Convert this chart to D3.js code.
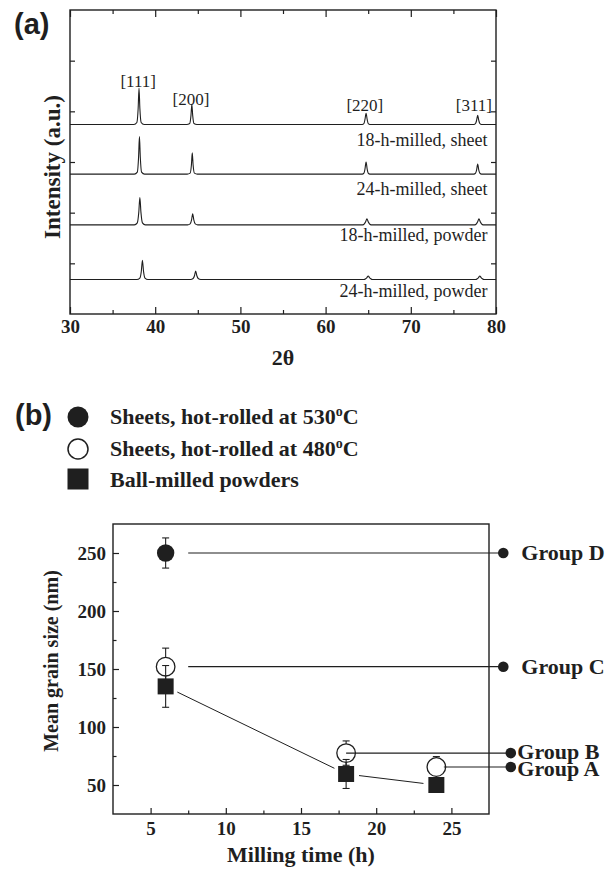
<!DOCTYPE html>
<html><head><meta charset="utf-8">
<script src="https://cdn.jsdelivr.net/npm/d3@7"></script>
<style>body{margin:0;background:#fff} svg{display:block}</style>
</head><body>
<svg id="c" width="612" height="870"></svg>
<script>
// ---------- Panel (a): XRD patterns ----------
const xTicksA = [30, 40, 50, 60, 70, 80];
const xMinorA = [35, 45, 55, 65, 75];
const yTicksA = [50, 100, 150, 200, 250];
const traceLabels = ["18-h-milled, sheet", "24-h-milled, sheet", "18-h-milled, powder", "24-h-milled, powder"];
const traceOffsets = [187, 138, 88, 34];
const trace18Sheet = [[30,0],
  [37.5,0],[37.85,2],[38.0,16],[38.1,36],[38.2,16],[38.35,2],[38.7,0],
  [43.7,0],[44.05,1],[44.2,9],[44.3,20],[44.4,9],[44.55,1],[44.9,0],
  [64.3,0],[64.5,1],[64.62,5],[64.75,11],[64.88,5],[65.0,1],[65.2,0],
  [77.4,0],[77.6,1],[77.72,4],[77.85,9],[77.98,4],[78.1,1],[78.3,0],
  [80,0]];
const trace24Sheet = [[30,0],
  [37.55,0],[37.9,2],[38.05,17],[38.15,37],[38.25,17],[38.4,2],[38.75,0],
  [43.75,0],[44.1,1],[44.25,9],[44.35,21],[44.45,9],[44.6,1],[44.95,0],
  [64.3,0],[64.5,1],[64.62,5],[64.75,12],[64.88,5],[65.0,1],[65.2,0],
  [77.4,0],[77.6,1],[77.72,4],[77.85,10],[77.98,4],[78.1,1],[78.3,0],
  [80,0]];
const trace18Powder = [[30,0],
  [37.55,0],[37.9,2],[38.07,12],[38.2,27],[38.33,12],[38.5,2],[38.85,0],
  [43.8,0],[44.1,1],[44.27,5],[44.4,11],[44.53,5],[44.7,1],[45.0,0],
  [64.35,0],[64.55,1],[64.7,3],[64.85,6],[65.0,3],[65.15,1],[65.35,0],
  [77.5,0],[77.7,1],[77.85,3],[78.0,6],[78.15,3],[78.3,1],[78.5,0],
  [80,0]];
const trace24Powder = [[30,0],
  [37.85,0],[38.2,1.5],[38.37,8],[38.5,19],[38.63,8],[38.8,1.5],[39.15,0],
  [44.15,0],[44.45,1],[44.62,4],[44.75,8.5],[44.88,4],[45.05,1],[45.35,0],
  [64.5,0],[64.7,0.8],[64.85,2],[65.0,3.5],[65.15,2],[65.3,0.8],[65.5,0],
  [77.6,0],[77.8,0.8],[77.95,2],[78.1,3.5],[78.25,2],[78.4,0.8],[78.6,0],
  [80,0]];
const traces = [trace18Sheet, trace24Sheet, trace18Powder, trace24Powder];
const peakLabels = ["[111]", "[200]", "[220]", "[311]"];
const peakLabelAngle = [38.0, 44.2, 64.6, 77.4];
const peakLabelLevel = [224, 206, 200, 200];

// ---------- Panel (b): grain size ----------
const xTicksB = [5, 10, 15, 20, 25];
const xMinorB = [7.5, 12.5, 17.5, 22.5];
const yTicksB = [50, 100, 150, 200, 250];
const yMinorB = [75, 125, 175, 225];
const legendLabels = ["Sheets, hot-rolled at 530", "Sheets, hot-rolled at 480", "Ball-milled powders"];
// [milling time (h), mean grain size (nm), error (nm)]
const hot530 = [[6, 250, 13]];
const hot480 = [[6, 152, 16], [18, 77.5, 10.5], [24, 65.5, 9]];
const powders = [[6, 135, 18], [18, 59.5, 12.5], [24, 50, 0]];
const groupNames = ["Group D", "Group C", "Group B", "Group A"];
const groupSize = [250, 152, 77.5, 65.5];
const groupFrom = [7.5, 7.5, 18, 24.5];
const groupTo = [28.45, 28.45, 28.95, 28.95];

// ---------- drawing ----------
const svg = d3.select("#c");
const ink = "#1f1f1f";
const serif = "'Liberation Serif', 'Times New Roman', serif";
const sans = "'Liberation Sans', Arial, sans-serif";

function styleAxis(g, size) {
  g.select(".domain").remove();
  g.selectAll(".tick line").attr("stroke", ink).attr("stroke-width", 1.2);
  g.selectAll(".tick text").attr("fill", ink).attr("font-family", serif)
    .attr("font-weight", "bold").attr("font-size", size);
}

// Panel a
const xA = d3.scaleLinear([30, 80], [70, 496]);
const yA = d3.scaleLinear([0, 300], [314, 10]);
const gA = svg.append("g");

gA.append("g").attr("transform", "translate(0,314)")
  .call(d3.axisBottom(xA).tickValues(xTicksA).tickSize(-7).tickPadding(5.5).tickFormat(d3.format("d")))
  .call(g => styleAxis(g, 19));
gA.append("g").attr("transform", "translate(0,314)")
  .call(d3.axisBottom(xA).tickValues(xMinorA).tickSize(-4).tickFormat(""))
  .call(g => styleAxis(g, 19));
gA.append("g").attr("transform", "translate(0,10)")
  .call(d3.axisTop(xA).tickValues(xTicksA).tickSize(-7).tickFormat(""))
  .call(g => styleAxis(g, 19));
gA.append("g").attr("transform", "translate(0,10)")
  .call(d3.axisTop(xA).tickValues(xMinorA).tickSize(-4).tickFormat(""))
  .call(g => styleAxis(g, 19));
gA.append("g").attr("transform", "translate(70,0)")
  .call(d3.axisLeft(yA).tickValues(yTicksA).tickSize(-5).tickFormat(""))
  .call(g => styleAxis(g, 19));
gA.append("g").attr("transform", "translate(496,0)")
  .call(d3.axisRight(yA).tickValues(yTicksA).tickSize(-5).tickFormat(""))
  .call(g => styleAxis(g, 19));
gA.append("rect").attr("x", xA(30)).attr("y", yA(300))
  .attr("width", xA(80) - xA(30)).attr("height", yA(0) - yA(300))
  .attr("fill", "none").attr("stroke", ink).attr("stroke-width", 1.4);

traces.forEach((tr, i) => {
  const line = d3.line().x(d => xA(d[0])).y(d => yA(d[1] + traceOffsets[i])).curve(d3.curveMonotoneX);
  gA.append("path").attr("d", line(tr)).attr("fill", "none")
    .attr("stroke", ink).attr("stroke-width", 1.1);
});
const traceLabelDy = [21.5, 21, 16, 17.5];
traceLabels.forEach((t, i) => {
  gA.append("text").attr("x", xA(79.0)).attr("y", yA(traceOffsets[i]) + traceLabelDy[i])
    .attr("text-anchor", "end").attr("font-family", serif).attr("font-size", 18)
    .attr("fill", ink).text(t);
});
peakLabels.forEach((t, i) => {
  gA.append("text").attr("x", xA(peakLabelAngle[i])).attr("y", yA(peakLabelLevel[i]))
    .attr("text-anchor", "middle").attr("font-family", serif).attr("font-size", 17)
    .attr("fill", ink).text(t);
});
gA.append("text").attr("x", 283).attr("y", 365).attr("text-anchor", "middle")
  .attr("font-family", serif).attr("font-weight", "bold").attr("font-size", 22).attr("fill", ink)
  .text("2θ");
gA.append("text").attr("transform", "translate(60,167) rotate(-90)").attr("text-anchor", "middle")
  .attr("font-family", serif).attr("font-weight", "bold").attr("font-size", 23).attr("fill", ink)
  .text("Intensity (a.u.)");
svg.append("text").attr("x", 14).attr("y", 34).attr("font-family", sans).attr("font-weight", "bold")
  .attr("font-size", 29).attr("fill", ink).text("(a)");

// Panel b
const xB = d3.scaleLinear([2.5, 27.5], [113, 489]);
const yB = d3.scaleLinear([25, 275], [814, 524]);
const gB = svg.append("g");

gB.append("g").attr("transform", "translate(0,814)")
  .call(d3.axisBottom(xB).tickValues(xTicksB).tickSize(-6).tickPadding(7.5).tickFormat(d3.format("d")))
  .call(g => styleAxis(g, 19));
gB.append("g").attr("transform", "translate(0,814)")
  .call(d3.axisBottom(xB).tickValues(xMinorB).tickSize(-3.5).tickFormat(""))
  .call(g => styleAxis(g, 19));
gB.append("g").attr("transform", "translate(113,0)")
  .call(d3.axisLeft(yB).tickValues(yTicksB).tickSize(-6).tickPadding(7).tickFormat(d3.format("d")))
  .call(g => styleAxis(g, 19));
gB.append("g").attr("transform", "translate(113,0)")
  .call(d3.axisLeft(yB).tickValues(yMinorB).tickSize(-3.5).tickFormat(""))
  .call(g => styleAxis(g, 19));
gB.append("rect").attr("x", xB(2.5)).attr("y", yB(275))
  .attr("width", xB(27.5) - xB(2.5)).attr("height", yB(25) - yB(275))
  .attr("fill", "none").attr("stroke", ink).attr("stroke-width", 1.4);

function errBar(g, d) {
  if (!d[2]) return;
  const x = xB(d[0]);
  g.append("line").attr("x1", x).attr("x2", x).attr("y1", yB(d[1] - d[2])).attr("y2", yB(d[1] + d[2]))
    .attr("stroke", ink).attr("stroke-width", 1.1);
  [d[1] - d[2], d[1] + d[2]].forEach(v => g.append("line").attr("x1", x - 3.5).attr("x2", x + 3.5)
    .attr("y1", yB(v)).attr("y2", yB(v)).attr("stroke", ink).attr("stroke-width", 1.1));
}

// connecting line for powders (gapped around markers)
for (let i = 0; i < powders.length - 1; i++) {
  const x1 = xB(powders[i][0]), y1 = yB(powders[i][1]);
  const x2 = xB(powders[i + 1][0]), y2 = yB(powders[i + 1][1]);
  const L = Math.hypot(x2 - x1, y2 - y1), ux = (x2 - x1) / L, uy = (y2 - y1) / L, gap = 13;
  gB.append("line").attr("x1", x1 + ux * gap).attr("y1", y1 + uy * gap)
    .attr("x2", x2 - ux * gap).attr("y2", y2 - uy * gap).attr("stroke", ink).attr("stroke-width", 1);
}

hot530.forEach(d => errBar(gB, d));
hot480.forEach(d => errBar(gB, d));
gB.selectAll(".c530").data(hot530).join("circle").attr("cx", d => xB(d[0])).attr("cy", d => yB(d[1]))
  .attr("r", 8.7).attr("fill", ink);
gB.selectAll(".c480").data(hot480).join("circle").attr("cx", d => xB(d[0])).attr("cy", d => yB(d[1]))
  .attr("r", 9.3).attr("fill", "#fff").attr("stroke", ink).attr("stroke-width", 1.3);

// group lines
const groupLabelDy = [0.33, 0.33, 0.28, 0.4];
groupNames.forEach((name, i) => {
  const y = yB(groupSize[i]);
  gB.append("line").attr("x1", xB(groupFrom[i])).attr("x2", xB(groupTo[i])).attr("y1", y).attr("y2", y)
    .attr("stroke", ink).attr("stroke-width", 1.2);
  gB.append("circle").attr("cx", xB(groupTo[i])).attr("cy", y).attr("r", 5.3).attr("fill", ink);
  gB.append("text").attr("x", xB(groupTo[i]) + (i < 2 ? 18 : 6.5)).attr("y", y).attr("dy", groupLabelDy[i] + "em")
    .attr("font-family", serif).attr("font-weight", "bold").attr("font-size", 22).attr("fill", ink).text(name);
});

powders.forEach(d => errBar(gB, d));
gB.selectAll(".sq").data(powders).join("rect").attr("x", d => xB(d[0]) - 8).attr("y", d => yB(d[1]) - 8)
  .attr("width", 16).attr("height", 16).attr("fill", ink);

gB.append("text").attr("x", 301).attr("y", 862).attr("text-anchor", "middle")
  .attr("font-family", serif).attr("font-weight", "bold").attr("font-size", 22).attr("fill", ink)
  .text("Milling time (h)");
gB.append("text").attr("transform", "translate(57.5,661) rotate(-90)").attr("text-anchor", "middle")
  .attr("font-family", serif).attr("font-weight", "bold").attr("font-size", 20).attr("fill", ink)
  .text("Mean grain size (nm)");

// legend b
svg.append("text").attr("x", 15).attr("y", 425).attr("font-family", sans).attr("font-weight", "bold")
  .attr("font-size", 29).attr("fill", ink).text("(b)");
const lg = svg.append("g");
lg.append("circle").attr("cx", 78).attr("cy", 417).attr("r", 10.5).attr("fill", ink);
lg.append("circle").attr("cx", 78).attr("cy", 449).attr("r", 10).attr("fill", "#fff")
  .attr("stroke", ink).attr("stroke-width", 1.5);
lg.append("rect").attr("x", 67.5).attr("y", 468.5).attr("width", 21).attr("height", 21).attr("fill", ink);
const legendY = [424, 456, 487];
legendLabels.forEach((t, i) => {
  const tx = lg.append("text").attr("x", 110).attr("y", legendY[i]).attr("font-family", serif)
    .attr("font-weight", "bold").attr("font-size", 22).attr("fill", ink);
  tx.append("tspan").text(t);
  if (i < 2) {
    tx.append("tspan").attr("dy", -8).attr("font-size", 14).text("o");
    tx.append("tspan").attr("dy", 8).text("C");
  }
});
</script>
</body></html>
